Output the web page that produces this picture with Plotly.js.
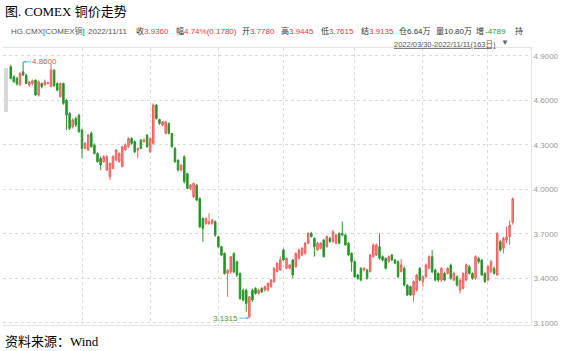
<!DOCTYPE html>
<html>
<head>
<meta charset="utf-8">
<script src="https://cdn.plot.ly/plotly-3.0.1.min.js"></script>
<style>html,body{margin:0;padding:0;background:#fff;}#chart{width:565px;height:351px;}</style>
</head>
<body>
<div id="chart"></div>
<script>
// ---- Data (COMEX copper HG, daily, 2022/03/30 - 2022/11/11, 163 sessions) ----
const startDate = '2022-03-30';
const endDate = '2022-11-11';

const openP = [4.827,4.759,4.748,4.703,4.793,4.770,4.703,4.714,4.737,4.636,
4.714,4.703,4.712,4.692,4.804,4.714,4.624,4.714,4.600,4.512,
4.422,4.478,4.500,4.400,4.276,4.265,4.377,4.298,4.242,4.209,
4.186,4.130,4.085,4.141,4.197,4.186,4.152,4.265,4.287,4.343,
4.321,4.265,4.332,4.321,4.366,4.253,4.310,4.568,4.471,4.433,
4.377,4.444,4.377,4.276,4.197,4.130,4.219,4.107,4.006,3.950,
4.028,3.939,3.804,3.770,3.770,3.770,3.781,3.680,3.613,3.568,
3.433,3.444,3.568,3.511,3.433,3.320,3.320,3.141,3.320,3.332,
3.298,3.332,3.321,3.321,3.344,3.377,3.445,3.456,3.591,3.467,
3.467,3.523,3.478,3.535,3.557,3.568,3.636,3.703,3.670,3.591,
3.602,3.658,3.613,3.670,3.647,3.636,3.703,3.703,3.692,3.636,
3.568,3.512,3.422,3.467,3.456,3.456,3.445,3.546,3.557,3.613,
3.546,3.535,3.512,3.557,3.523,3.512,3.445,3.467,3.354,3.343,
3.287,3.321,3.467,3.377,3.411,3.467,3.546,3.456,3.433,3.388,
3.433,3.433,3.489,3.388,3.411,3.321,3.332,3.388,3.478,3.433,
3.400,3.534,3.523,3.433,3.388,3.444,3.467,3.422,3.647,3.602,
3.658,3.680,3.778];

const highP = [4.840,4.770,4.760,4.790,4.860,4.780,4.730,4.740,4.740,4.735,
4.720,4.740,4.720,4.845,4.810,4.720,4.720,4.720,4.610,4.520,
4.480,4.490,4.510,4.410,4.320,4.370,4.390,4.310,4.250,4.220,
4.230,4.230,4.180,4.230,4.270,4.250,4.290,4.310,4.350,4.350,
4.330,4.280,4.340,4.345,4.370,4.350,4.580,4.575,4.475,4.460,
4.462,4.450,4.380,4.285,4.200,4.170,4.230,4.110,4.035,4.045,
4.035,3.945,3.810,3.810,3.837,3.800,3.790,3.685,3.620,3.575,
3.460,3.550,3.575,3.520,3.440,3.330,3.330,3.280,3.330,3.340,
3.330,3.340,3.350,3.370,3.395,3.475,3.510,3.546,3.600,3.540,
3.495,3.530,3.575,3.600,3.610,3.645,3.710,3.714,3.675,3.645,
3.645,3.665,3.690,3.680,3.725,3.700,3.710,3.782,3.700,3.645,
3.575,3.520,3.430,3.475,3.475,3.465,3.565,3.635,3.635,3.703,
3.555,3.540,3.555,3.565,3.530,3.520,3.530,3.480,3.360,3.350,
3.385,3.430,3.475,3.420,3.500,3.555,3.590,3.465,3.440,3.475,
3.445,3.475,3.500,3.445,3.420,3.395,3.440,3.500,3.490,3.440,
3.555,3.545,3.530,3.440,3.490,3.525,3.480,3.710,3.660,3.680,
3.748,3.790,3.9445];

const lowP = [4.740,4.720,4.700,4.700,4.765,4.710,4.690,4.700,4.630,4.625,
4.680,4.700,4.710,4.690,4.690,4.660,4.620,4.570,4.400,4.400,
4.410,4.420,4.380,4.210,4.270,4.260,4.280,4.235,4.180,4.130,
4.180,4.125,4.062,4.135,4.190,4.180,4.150,4.260,4.280,4.300,
4.245,4.210,4.270,4.315,4.280,4.245,4.300,4.470,4.435,4.425,
4.370,4.370,4.280,4.180,4.120,4.120,4.040,4.000,3.995,3.940,
3.920,3.740,3.646,3.760,3.760,3.760,3.680,3.605,3.550,3.425,
3.275,3.430,3.435,3.410,3.255,3.245,3.174,3.1315,3.240,3.290,
3.290,3.300,3.310,3.310,3.335,3.370,3.440,3.450,3.515,3.460,
3.460,3.400,3.470,3.525,3.550,3.560,3.630,3.675,3.546,3.585,
3.595,3.540,3.605,3.640,3.640,3.630,3.630,3.685,3.620,3.550,
3.445,3.405,3.390,3.380,3.445,3.390,3.440,3.540,3.550,3.525,
3.515,3.460,3.505,3.515,3.495,3.400,3.440,3.345,3.280,3.280,
3.242,3.310,3.380,3.343,3.400,3.460,3.435,3.380,3.375,3.375,
3.380,3.425,3.390,3.380,3.345,3.298,3.325,3.380,3.425,3.390,
3.390,3.500,3.415,3.370,3.380,3.435,3.425,3.415,3.580,3.568,
3.635,3.624,3.7615];

const closeP = [4.748,4.725,4.710,4.782,4.770,4.714,4.725,4.732,4.636,4.725,
4.692,4.725,4.718,4.804,4.700,4.669,4.714,4.580,4.500,4.411,
4.467,4.433,4.388,4.276,4.310,4.366,4.287,4.242,4.186,4.164,
4.220,4.220,4.175,4.220,4.265,4.242,4.287,4.298,4.343,4.310,
4.253,4.276,4.276,4.332,4.287,4.343,4.568,4.478,4.444,4.455,
4.455,4.377,4.287,4.186,4.130,4.163,4.051,4.006,4.028,4.040,
3.927,3.747,3.736,3.804,3.781,3.792,3.691,3.613,3.556,3.433,
3.455,3.545,3.444,3.422,3.264,3.253,3.230,3.275,3.253,3.298,
3.320,3.309,3.344,3.366,3.388,3.467,3.501,3.523,3.523,3.535,
3.490,3.422,3.568,3.591,3.602,3.636,3.703,3.681,3.613,3.636,
3.636,3.546,3.681,3.647,3.714,3.692,3.636,3.692,3.625,3.557,
3.512,3.411,3.400,3.388,3.467,3.400,3.557,3.625,3.625,3.535,
3.523,3.467,3.546,3.523,3.501,3.411,3.490,3.354,3.287,3.287,
3.377,3.422,3.388,3.411,3.489,3.546,3.444,3.388,3.388,3.467,
3.388,3.467,3.400,3.433,3.354,3.388,3.433,3.489,3.433,3.400,
3.546,3.512,3.422,3.377,3.478,3.512,3.433,3.703,3.590,3.669,
3.680,3.758,3.936];

const yTicks = [3.1, 3.4, 3.7, 4.0, 4.3, 4.6, 4.9];
const monthStarts = ['2022-05-02','2022-06-01','2022-07-01','2022-08-01','2022-09-01','2022-10-03','2022-11-01'];

const maxLabel = '4.8600', maxDate = '2022-04-05', maxValue = 4.86;
const minLabel = '3.1315', minDate = '2022-07-15', minValue = 3.1315;

const headerItems = [
  ['HG.CMX[COMEX铜]', 9, '#555555'],
  ['2022/11/11', 86, '#555555'],
  ['收', 134, '#333333'], ['3.9360', 142, '#e8383d'],
  ['幅', 174, '#333333'], ['4.74%(0.1780)', 182, '#e8383d'],
  ['开', 240, '#333333'], ['3.7780', 248, '#e8383d'],
  ['高', 279, '#333333'], ['3.9445', 287, '#e8383d'],
  ['低', 319, '#333333'], ['3.7615', 327, '#e8383d'],
  ['结', 359, '#333333'], ['3.9135', 367, '#e8383d'],
  ['仓6.64万', 397, '#333333'],
  ['量10.80万', 434, '#333333'],
  ['增', 474, '#333333'], ['-4789', 483, '#1e9e1e'],
  ['持', 513, '#333333']
];

// ---- session dates (every weekday in the range, as Wind lists them) ----
const dates = [];
(function(){
  let d = new Date(startDate + 'T00:00:00Z');
  const e = new Date(endDate + 'T00:00:00Z');
  while (d <= e) {
    const wd = d.getUTCDay();
    if (wd !== 0 && wd !== 6) dates.push(d.toISOString().slice(0,10));
    d = new Date(d.getTime() + 86400000);
  }
})();

// ---- layout geometry ----
const W = 565, H = 351, mL = 3, mR = 34, mT = 48, mB = 26;
const PW = W - mL - mR, PH = H - mT - mB;
const X = px => (px - mL) / PW;
const Y = py => (H - mB - py) / PH;

const sans = 'Liberation Sans, Arial, Noto Sans CJK SC, sans-serif';
const serif = 'Liberation Serif, Times New Roman, Noto Sans CJK SC, serif';

const annotations = [];
annotations.push({xref:'paper', yref:'paper', x:X(3), y:Y(11), xanchor:'left', yanchor:'middle',
  text:'图. COMEX 铜价走势', showarrow:false, font:{family:serif, size:13, color:'#000'}});
annotations.push({xref:'paper', yref:'paper', x:X(3), y:Y(341), xanchor:'left', yanchor:'middle',
  text:'资料来源：Wind', showarrow:false, font:{family:serif, size:13, color:'#000'}});
headerItems.forEach(h => annotations.push({xref:'paper', yref:'paper', x:X(h[1]), y:Y(31),
  xanchor:'left', yanchor:'middle', text:h[0], showarrow:false,
  font:{family:sans, size:8, color:h[2]}}));
annotations.push({xref:'paper', yref:'paper', x:X(498), y:Y(44), xanchor:'right', yanchor:'middle',
  text:'<u>2022/03/30-2022/11/11(163日)</u>', showarrow:false, font:{family:sans, size:7.5, color:'#555'}});
annotations.push({xref:'paper', yref:'paper', x:X(499), y:Y(43), xanchor:'left', yanchor:'middle',
  text:'▼', showarrow:false, font:{family:sans, size:8, color:'#666'}});
annotations.push({x:maxDate, y:maxValue, xref:'x', yref:'y', text:maxLabel, showarrow:true,
  ax:8, ay:0, xanchor:'left', arrowhead:2, arrowsize:0.6, arrowwidth:1, arrowcolor:'#6ab8d8',
  font:{family:sans, size:8, color:'#e45555'}, borderpad:0});
annotations.push({x:minDate, y:minValue, xref:'x', yref:'y', text:minLabel, showarrow:true,
  ax:-10, ay:0, xanchor:'right', arrowhead:2, arrowsize:0.6, arrowwidth:1, arrowcolor:'#6ab8d8',
  font:{family:sans, size:8, color:'#4a9a3a'}, borderpad:0});

const trace = {
  type:'candlestick', x:dates, open:openP, high:highP, low:lowP, close:closeP,
  increasing:{line:{color:'#f25f5f', width:1}, fillcolor:'#f98a8a'},
  decreasing:{line:{color:'#2a9a2c', width:1}, fillcolor:'#1f8f22'},
  whiskerwidth:0, hoverinfo:'none', showlegend:false
};

const layout = {
  width:W, height:H, margin:{l:mL, r:mR, t:mT, b:mB, pad:0},
  paper_bgcolor:'#fff', plot_bgcolor:'#fff', showlegend:false,
  xaxis:{type:'category', range:[-2.5, 167.9], rangeslider:{visible:false},
    tickvals:monthStarts, showticklabels:false, ticks:'',
    showgrid:true, gridcolor:'#dadada', griddash:'dot', gridwidth:1,
    showline:true, linecolor:'#e4e4e4', linewidth:1, mirror:true, zeroline:false, fixedrange:true},
  yaxis:{side:'right', range:[3.085, 4.953], tickvals:yTicks, tickformat:'.4f',
    ticks:'', showgrid:true, gridcolor:'#dadada', griddash:'dot', gridwidth:1,
    showline:true, linecolor:'#e4e4e4', linewidth:1, zeroline:false,
    tickfont:{family:sans, size:8, color:'#999'}, fixedrange:true},
  shapes:[{type:'rect', xref:'paper', yref:'paper', x0:X(4), x1:X(8), y0:Y(112), y1:Y(68),
    fillcolor:'#d8d8d8', line:{width:0}}],
  annotations:annotations,
  font:{family:sans}
};

Plotly.newPlot('chart', [trace], layout, {staticPlot:true, displayModeBar:false});
</script>
</body>
</html>
